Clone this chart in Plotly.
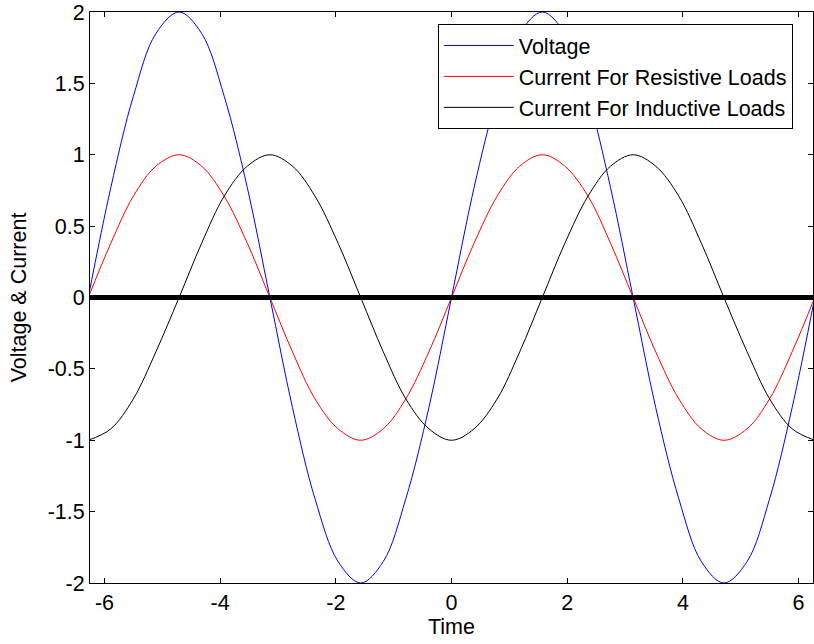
import plotly.graph_objects as go

time = [-6.28, -5.89, -5.50, -5.11, -4.71, -4.32, -3.93, -3.53, -3.14, -2.75, -2.36,
        -1.96, -1.57, -1.18, -0.79, -0.39, 0.0, 0.39, 0.79, 1.18, 1.57, 1.96, 2.36,
        2.75, 3.14, 3.53, 3.93, 4.32, 4.71, 5.11, 5.50, 5.89, 6.28]

voltage = [0, 0.77, 1.41, 1.85, 2, 1.85, 1.41, 0.77, 0, -0.77, -1.41, -1.85, -2, -1.85,
           -1.41, -0.77, 0, 0.77, 1.41, 1.85, 2, 1.85, 1.41, 0.77, 0, -0.77, -1.41,
           -1.85, -2, -1.85, -1.41, -0.77, 0]

current_resistive = [0, 0.38, 0.71, 0.92, 1, 0.92, 0.71, 0.38, 0, -0.38, -0.71, -0.92,
                     -1, -0.92, -0.71, -0.38, 0, 0.38, 0.71, 0.92, 1, 0.92, 0.71, 0.38,
                     0, -0.38, -0.71, -0.92, -1, -0.92, -0.71, -0.38, 0]

current_inductive = [-1, -0.92, -0.71, -0.38, 0, 0.38, 0.71, 0.92, 1, 0.92, 0.71, 0.38,
                     0, -0.38, -0.71, -0.92, -1, -0.92, -0.71, -0.38, 0, 0.38, 0.71,
                     0.92, 1, 0.92, 0.71, 0.38, 0, -0.38, -0.71, -0.92, -1]

zero_x = [-6.28, 6.28]
zero_y = [0, 0]

x_ticks = [-6, -4, -2, 0, 2, 4, 6]
x_tick_text = ["-6", "-4", "-2", "0", "2", "4", "6"]
y_ticks = [-2, -1.5, -1, -0.5, 0, 0.5, 1, 1.5, 2]
y_tick_text = ["-2", "-1.5", "-1", "-0.5", "0", "0.5", "1", "1.5", "2"]

font = "Liberation Sans, Arial, sans-serif"
fs = 21.5

fig = go.Figure()
fig.add_trace(go.Scatter(x=time, y=voltage, mode="lines", name="Voltage",
                         line=dict(color="#0000ff", width=1, shape="spline")))
fig.add_trace(go.Scatter(x=time, y=current_resistive, mode="lines",
                         name="Current For Resistive Loads",
                         line=dict(color="#ff0000", width=1, shape="spline")))
fig.add_trace(go.Scatter(x=time, y=current_inductive, mode="lines",
                         name="Current For Inductive Loads",
                         line=dict(color="#000000", width=1, shape="spline")))
fig.add_trace(go.Scatter(x=zero_x, y=zero_y, mode="lines", showlegend=False,
                         line=dict(color="#000000", width=5)))

axis_common = dict(showline=True, linecolor="black", linewidth=1, mirror="allticks",
                   ticks="inside", ticklen=5, tickcolor="black", showgrid=False,
                   zeroline=False, automargin=False,
                   tickfont=dict(size=fs, color="black", family=font))

fig.update_layout(
    width=814, height=644,
    margin=dict(l=90, r=1, t=12, b=61),
    paper_bgcolor="white", plot_bgcolor="white",
    font=dict(family=font, size=fs, color="black"),
    xaxis=dict(range=[-6.25, 6.25], tickvals=x_ticks, ticktext=x_tick_text,
               title=dict(text="Time", standoff=4, font=dict(size=fs)), **axis_common),
    yaxis=dict(range=[-2, 2], tickvals=y_ticks, ticktext=y_tick_text,
               title=dict(text="Voltage & Current", standoff=15, font=dict(size=fs)),
               **axis_common),
    legend=dict(x=0.481, y=0.979, xanchor="left", yanchor="top",
                bgcolor="white", bordercolor="black", borderwidth=1,
                font=dict(size=fs, family=font, color="black"),
                itemwidth=70, tracegroupgap=0),
    showlegend=True,
)

fig.write_html("out.html", config={"displayModeBar": False},
               post_script="document.body.style.margin='0';document.body.style.padding='0';")
